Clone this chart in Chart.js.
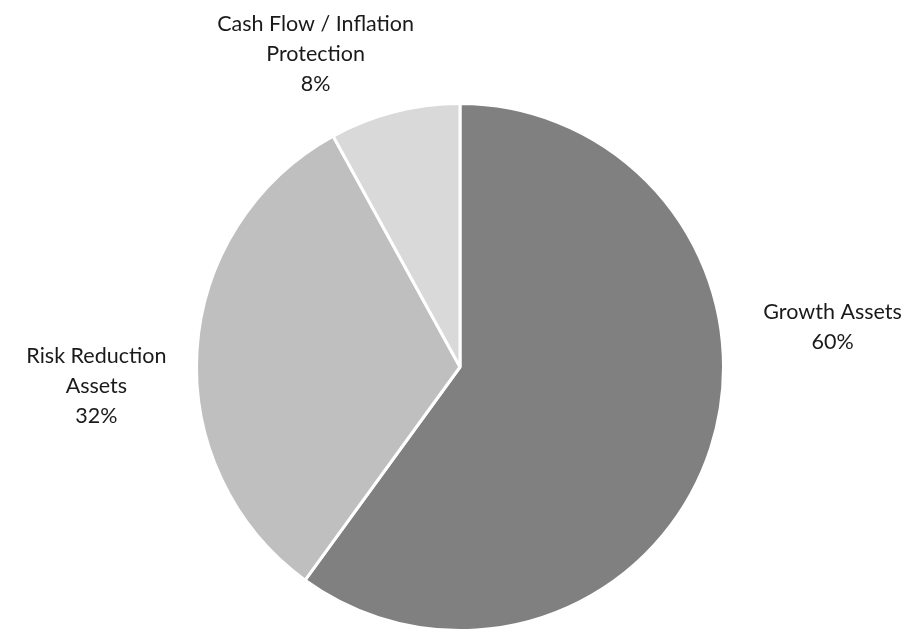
<!DOCTYPE html>
<html>
<head>
<meta charset="utf-8">
<script src="https://cdn.jsdelivr.net/npm/chart.js@4"></script>
<style>
  html, body { margin: 0; padding: 0; background: #fff; }
  #wrap { width: 903px; height: 632px; }
</style>
</head>
<body>
<div id="wrap"><canvas id="myChart"></canvas></div>
<script>
// data
var categories = ["Growth Assets", "Risk Reduction Assets", "Cash Flow / Inflation Protection"];
var values = [60, 32, 8];
var labelLines = [["Growth Assets", "60%"], ["Risk Reduction", "Assets", "32%"], ["Cash Flow / Inflation", "Protection", "8%"]];
var colors = ["#808080", "#bfbfbf", "#d9d9d9"];

// label offsets from the pie centre, in radii (placed by hand like in the original)
var labelPos = [[1.414, -0.15], [-1.38, 0.072], [-0.548, -1.186]];

var outsideLabels = {
  id: "outsideLabels",
  afterDraw: function (chart) {
    var ctx = chart.ctx;
    var meta = chart.getDatasetMeta(0);
    ctx.save();
    ctx.font = "21.5px Lato";
    ctx.fillStyle = "#1a1a1a";
    ctx.textAlign = "center";
    ctx.textBaseline = "middle";
    meta.data.forEach(function (arc, i) {
      var r = arc.outerRadius;
      var x = arc.x + labelPos[i][0] * r;
      var y = arc.y + labelPos[i][1] * r;
      var lines = labelLines[i];
      var lh = 30;
      var y0 = y - (lines.length - 1) * lh / 2;
      lines.forEach(function (t, k) {
        ctx.fillText(t, x, y0 + k * lh);
      });
    });
    ctx.restore();
  }
};

var ctx = document.getElementById("myChart").getContext("2d");
var myChart = new Chart(ctx, {
  type: "pie",
  data: {
    labels: categories,
    datasets: [{
      data: values,
      backgroundColor: colors,
      borderColor: "#ffffff",
      borderWidth: 3
    }]
  },
  options: {
    responsive: true,
    maintainAspectRatio: false,
    animation: false,
    layout: { padding: { top: 102, bottom: 0, left: 100, right: 83 } },
    plugins: {
      legend: { display: false },
      tooltip: { enabled: false }
    }
  },
  plugins: [outsideLabels]
});
</script>
</body>
</html>
